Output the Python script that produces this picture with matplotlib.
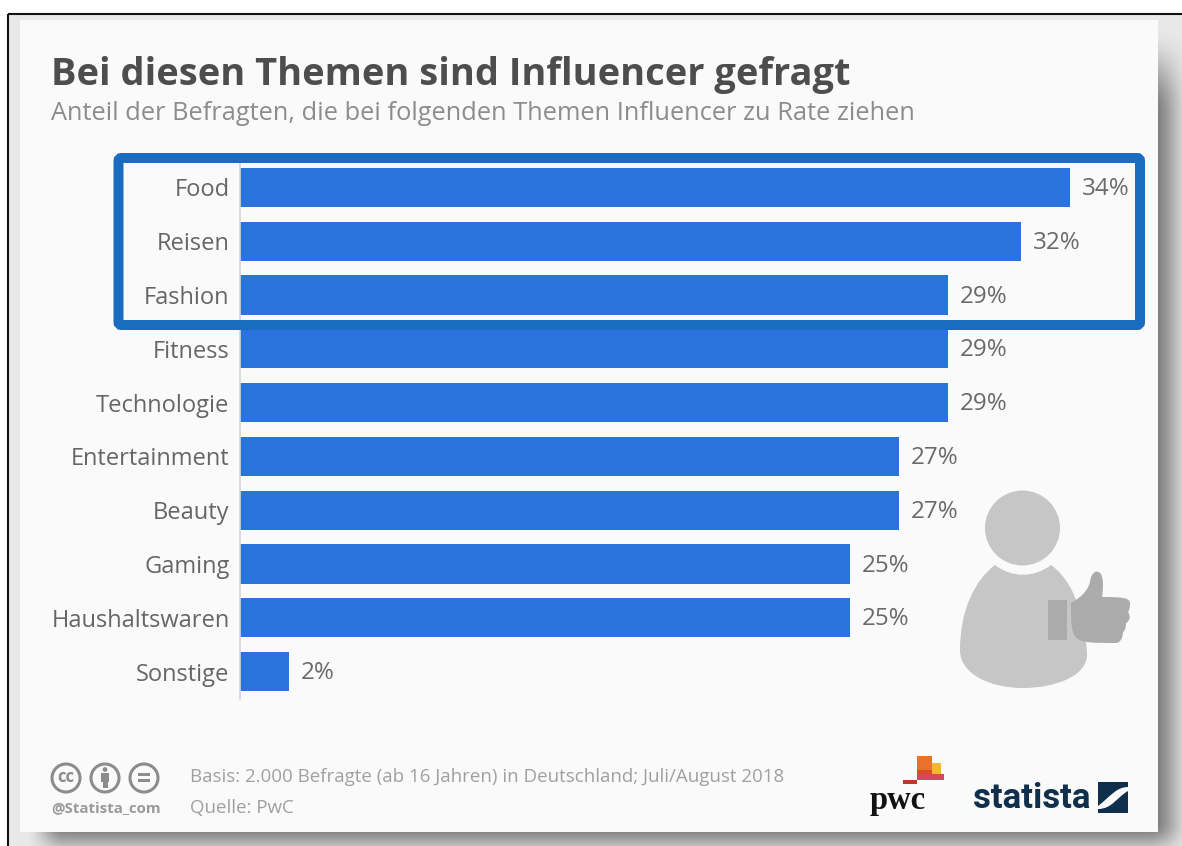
import numpy as np
import matplotlib
matplotlib.use("Agg")
import matplotlib.pyplot as plt
from matplotlib.patches import Rectangle, Circle, FancyBboxPatch, PathPatch
from matplotlib.path import Path

categories = ["Food", "Reisen", "Fashion", "Fitness", "Technologie",
              "Entertainment", "Beauty", "Gaming", "Haushaltswaren", "Sonstige"]
values = [34, 32, 29, 29, 29, 27, 27, 25, 25, 2]
value_labels = ["34%", "32%", "29%", "29%", "29%", "27%", "27%", "25%", "25%", "2%"]
title = "Bei diesen Themen sind Influencer gefragt"
subtitle = "Anteil der Befragten, die bei folgenden Themen Influencer zu Rate ziehen"
basis = "Basis: 2.000 Befragte (ab 16 Jahren) in Deutschland; Juli/August 2018"
source = "Quelle: PwC"

W, H = 1182, 846
plt.rcParams["font.family"] = ["Open Sans", "DejaVu Sans"]
fig = plt.figure(figsize=(W / 100, H / 100), dpi=100, facecolor="white")

# page layer in pixel coordinates
bg = fig.add_axes([0, 0, 1, 1], zorder=0)
bg.set_xlim(0, W); bg.set_ylim(H, 0); bg.axis("off")

# drop shadow of the card
yy, xx = np.mgrid[0:H, 0:W] + 0.5
def smooth(t):
    return t * t * (3 - 2 * t)
sx = smooth(np.clip((xx - 25) / 40, 0, 1)) * smooth(np.clip((1195 - xx) / 45, 0, 1))
sy = smooth(np.clip((yy - 25) / 90, 0, 1)) * smooth(np.clip((862 - yy) / 40, 0, 1))
shade = 232 - 115 * sx * sy
shade[(xx < 9) | (yy < 15)] = 255
bg.imshow(shade, cmap="gray", vmin=0, vmax=255, extent=(0, W, H, 0), aspect="auto",
          interpolation="bilinear", zorder=0)
bg.set_xlim(0, W); bg.set_ylim(H, 0)
bg.plot([8, 8], [14, H], color="#111111", lw=1.5, zorder=1, solid_capstyle="butt")
bg.plot([8, W], [14, 14], color="#111111", lw=1.5, zorder=1, solid_capstyle="butt")
bg.add_patch(Rectangle((20, 20), 1138, 812, fc="#fafafa", ec="none", zorder=2))

bg.text(51, 75, title, fontsize=27.4, fontweight="bold", color="#4d4d4d", va="center", ha="left", zorder=3)
bg.text(51, 114, subtitle, fontsize=18.3, color="#8c8c8c", va="center", ha="left", zorder=3)

# person with thumb
bg.add_patch(Circle((1022.5, 528), 37.5, fc="#c6c6c6", ec="none", zorder=3))
body = Path([(995, 565), (1012, 578), (1034, 578), (1051, 565),
             (1068, 577), (1078, 600), (1080, 615),
             (1084, 632), (1087, 644), (1087, 655),
             (1087, 676), (1055, 688), (1023, 688),
             (990, 688), (960, 674), (960, 650),
             (960, 610), (975, 580), (995, 565)],
            [Path.MOVETO] + [Path.CURVE4] * 18)
bg.add_patch(PathPatch(body, fc="#c6c6c6", ec="none", zorder=3))
bg.add_patch(Rectangle((1048, 600), 19, 40, fc="#ababab", ec="none", zorder=4))
thumb = Path([(1071, 603), (1082, 597), (1088, 590), (1090, 582),
              (1091, 572), (1097, 569), (1101, 574),
              (1104, 580), (1103, 590), (1102, 597),
              (1125, 597), (1130, 598), (1130, 604),
              (1130, 608), (1129, 611), (1128, 612),
              (1131, 616), (1130, 621), (1126, 623),
              (1126, 628), (1125, 631), (1123, 632),
              (1123, 638), (1120, 643), (1116, 643),
              (1071, 643), (1071, 643), (1071, 603)],
             [Path.MOVETO] + [Path.CURVE4, Path.CURVE4, Path.CURVE4] * 9)
bg.add_patch(PathPatch(thumb, fc="#ababab", ec="none", zorder=4))

# chart
ax = fig.add_axes([240 / W, 1 - 698.5 / H, (1182 - 240) / W, (698 - 160) / H], zorder=1)
ax.patch.set_alpha(0)
y = np.arange(len(categories))
ax.barh(y, values, height=0.725, color="#2a73dd", zorder=2)
ax.set_xlim(0, (1182 - 240) / (830 / 34))
ax.set_ylim(len(categories) - 0.5, -0.5)
ax.set_yticks(y, categories)
ax.set_xticks([])
ax.tick_params(axis="y", length=0, pad=7.5, labelsize=17, labelcolor="#666666")
for s in ["top", "right", "bottom"]:
    ax.spines[s].set_visible(False)
ax.spines["left"].set_color("#d5d5d5")
ax.spines["left"].set_linewidth(1.2)
for yi, v, t in zip(y, values, value_labels):
    ax.annotate(t, (v, yi), xytext=(8.5, -1.2), textcoords="offset points", va="center", ha="left",
                fontsize=17.4, color="#6a6a6a", zorder=3)

# top layer: highlight and footer
fg = fig.add_axes([0, 0, 1, 1], zorder=2)
fg.set_xlim(0, W); fg.set_ylim(H, 0); fg.axis("off"); fg.patch.set_alpha(0)
fg.add_patch(FancyBboxPatch((118.5, 158), 1021.5, 167, boxstyle="round,pad=0,rounding_size=3",
                            fc="none", ec="#1a6cc0", lw=7.2, zorder=5))

grey = "#8c8c8c"
for cx in (66, 105, 144):
    fg.add_patch(Circle((cx, 778), 14, fc="none", ec=grey, lw=2.2, zorder=3))
fg.text(66, 777.5, "cc", fontsize=12, fontweight="bold", color=grey, ha="center", va="center", zorder=3)
fg.add_patch(Circle((105, 769.5), 2.4, fc=grey, ec="none", zorder=3))
fg.add_patch(Rectangle((101, 773), 8, 9, fc=grey, ec="none", zorder=3))
fg.add_patch(Rectangle((102.5, 780), 5, 8, fc=grey, ec="none", zorder=3))
fg.add_patch(Rectangle((138, 773.5), 12, 2.6, fc=grey, ec="none", zorder=3))
fg.add_patch(Rectangle((138, 779.5), 12, 2.6, fc=grey, ec="none", zorder=3))
fg.text(51, 808, "@Statista_com", fontsize=10.8, fontweight="bold", color="#9a9a9a", va="center", ha="left", zorder=3)
fg.text(190, 776.5, basis, fontsize=13.5, color="#a0a0a0", va="center", ha="left", zorder=3)
fg.text(190, 807.5, source, fontsize=13.5, color="#a0a0a0", va="center", ha="left", zorder=3)

# pwc logo
fg.add_patch(Rectangle((917, 756), 15, 24, fc="#e8722a", ec="none", zorder=3))
fg.add_patch(Rectangle((932, 763), 9, 17, fc="#f4b731", ec="none", zorder=3))
fg.add_patch(Rectangle((917, 770), 15, 10, fc="#dd4a2a", ec="none", zorder=3))
fg.add_patch(Rectangle((917, 774), 27, 6, fc="#d94560", ec="none", zorder=3))
fg.add_patch(Rectangle((903, 780), 14, 4, fc="#b8382a", ec="none", zorder=3))
fg.text(898, 800, "pwc", fontsize=23.5, fontweight="bold", color="#111111", ha="center", va="center",
        family=["Liberation Serif", "DejaVu Serif"], zorder=3)

# statista logo
navy = "#0f2f4d"
fg.text(1032, 799, "statista", fontsize=25, fontweight="bold", color=navy, ha="center", va="center",
        family=["Roboto", "Open Sans"], zorder=3)
upper = Path([(1098, 782), (1128, 782), (1128, 787), (1116, 787), (1110, 797), (1098, 806), (1098, 782)],
             [Path.MOVETO, Path.LINETO, Path.LINETO, Path.CURVE4, Path.CURVE4, Path.CURVE4, Path.CLOSEPOLY])
lower = Path([(1128, 813), (1098, 813), (1098, 809), (1112, 809), (1116, 798), (1128, 791), (1128, 813)],
             [Path.MOVETO, Path.LINETO, Path.LINETO, Path.CURVE4, Path.CURVE4, Path.CURVE4, Path.CLOSEPOLY])
fg.add_patch(PathPatch(upper, fc=navy, ec="none", zorder=3))
fg.add_patch(PathPatch(lower, fc=navy, ec="none", zorder=3))

fig.savefig("out.png", dpi=100, facecolor="white")
